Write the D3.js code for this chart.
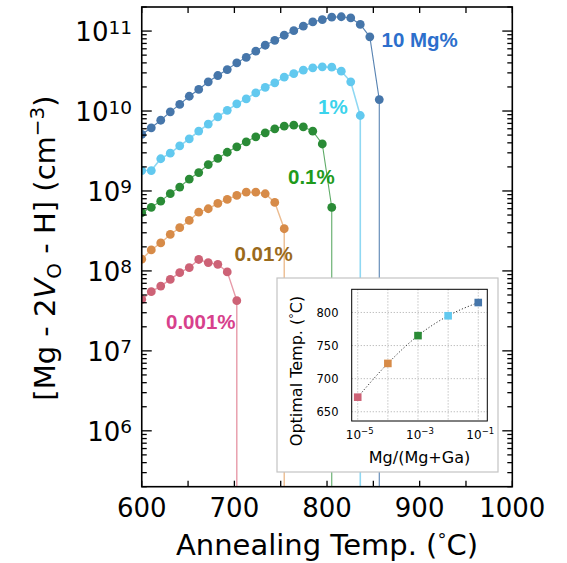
<!DOCTYPE html>
<html>
<head>
<meta charset="utf-8">
<script src="https://cdn.jsdelivr.net/npm/d3@7"></script>
<style>
  body { margin: 0; background: #fff; }
  svg { display: block; }
</style>
</head>
<body>
<svg id="chart" width="567" height="563"></svg>
<script>
// Annealing temperatures (°C) shared by all doping levels
const temperatures = [600.0, 610.3, 620.5, 630.8, 641.0, 651.3, 661.5, 671.8, 682.1, 692.3,
  702.6, 712.8, 723.1, 733.3, 743.6, 753.8, 764.1, 774.4, 784.6, 794.9,
  805.1, 815.4, 825.6, 835.9, 846.2, 856.4];

// [Mg - 2V_O - H] concentration (cm^-3) for each Mg fraction
const mg10 = [5.09e9, 6.17e9, 7.67e9, 9.77e9, 1.21e10, 1.53e10, 1.86e10, 2.32e10, 2.78e10, 3.30e10,
  4.00e10, 4.70e10, 5.60e10, 6.65e10, 7.67e10, 8.87e10, 1.01e11, 1.15e11, 1.30e11, 1.39e11,
  1.49e11, 1.51e11, 1.46e11, 1.21e11, 8.47e10, 1.39e10];
const mg1 = [1.80e9, 1.80e9, 2.53e9, 2.97e9, 3.67e9, 4.49e9, 5.62e9, 6.86e9, 8.46e9, 1.02e10,
  1.23e10, 1.42e10, 1.69e10, 1.98e10, 2.25e10, 2.65e10, 2.94e10, 3.24e10, 3.47e10, 3.57e10,
  3.53e10, 3.15e10, 2.32e10, 8.79e9];
const mg01 = [5.34e8, 6.25e8, 7.46e8, 9.25e8, 1.12e9, 1.41e9, 1.70e9, 2.14e9, 2.55e9, 3.05e9,
  3.57e9, 4.12e9, 4.76e9, 5.34e9, 5.99e9, 6.46e9, 6.65e9, 6.35e9, 5.59e9, 3.87e9, 6.22e8];
const mg001 = [1.40e8, 1.83e8, 2.24e8, 2.86e8, 3.47e8, 4.28e8, 5.43e8, 5.99e8, 6.98e8, 7.83e8,
  8.79e8, 9.66e8, 9.66e8, 9.23e8, 7.18e8, 3.37e8];
const mg0001 = [4.40e7, 5.50e7, 6.46e7, 7.83e7, 9.50e7, 1.10e8, 1.39e8, 1.27e8, 1.21e8, 9.72e7, 4.25e7];

const seriesLabels = ["10 Mg%", "1%", "0.1%", "0.01%", "0.001%"];

// Inset: optimal annealing temperature vs Mg fraction
const mgFraction = [1e-5, 1e-4, 1e-3, 1e-2, 1e-1];
const optimalTemp = [672, 723, 765, 795, 815];

// Tick labels
const xTicks = [600, 700, 800, 900, 1000];
const yTickExponents = [6, 7, 8, 9, 10, 11];
const insetYTicks = [650, 700, 750, 800];
const insetXTickExponents = [-5, -3, -1];

// ---- styling ----
const styles = [
  { dot: "#4676aa", line: "#4676aa", lineOpacity: 0.9, lw: 1.1, text: "#2c6fcc", lx: 381.5, ly: 47 },
  { dot: "#62c9ef", line: "#8fd8f3", lineOpacity: 1.0, lw: 1.6, text: "#3bd3ec", lx: 318, ly: 114 },
  { dot: "#2a8b36", line: "#4ca257", lineOpacity: 0.9, lw: 1.1, text: "#1f9a1c", lx: 288, ly: 184 },
  { dot: "#d78b48", line: "#ecbc90", lineOpacity: 1.0, lw: 1.4, text: "#9a6a1c", lx: 234.5, ly: 260.5 },
  { dot: "#cd6276", line: "#e79aa8", lineOpacity: 1.0, lw: 1.4, text: "#d7418c", lx: 166, ly: 329 }
];
const seriesValues = [mg10, mg1, mg01, mg001, mg0001];

const svg = d3.select("#chart");
const font = "'DejaVu Sans', sans-serif";

const plot = { left: 141.75, right: 512.3, top: 7, bottom: 486.7 };
const x = d3.scaleLinear().domain([600, 1000]).range([plot.left, plot.right]);
const y = d3.scaleLog().domain([2e5, 2e11]).range([plot.bottom, plot.top]);

svg.append("defs").append("clipPath").attr("id", "plotClip")
  .append("rect")
  .attr("x", plot.left).attr("y", plot.top)
  .attr("width", plot.right - plot.left).attr("height", plot.bottom - plot.top);

const dataLayer = svg.append("g").attr("clip-path", "url(#plotClip)");

// Each curve ends with a drop to zero concentration, drawn as a vertical line to the floor
seriesValues.forEach((vals, si) => {
  const st = styles[si];
  const pts = vals.map((v, i) => ({ t: temperatures[i], v }));
  const last = pts[pts.length - 1];
  const linePts = pts.concat([{ t: last.t, v: 1e3 }]);
  dataLayer.append("path")
    .datum(linePts)
    .attr("fill", "none")
    .attr("stroke", st.line)
    .attr("stroke-opacity", st.lineOpacity)
    .attr("stroke-width", st.lw)
    .attr("d", d3.line().x(d => x(d.t)).y(d => y(d.v)));
  dataLayer.append("g").selectAll("circle")
    .data(pts).join("circle")
    .attr("cx", d => x(d.t)).attr("cy", d => y(d.v))
    .attr("r", 4.4)
    .attr("fill", st.dot);
});

// Series labels
seriesLabels.forEach((lab, si) => {
  const st = styles[si];
  svg.append("text")
    .attr("x", st.lx).attr("y", st.ly)
    .attr("font-family", "'Liberation Sans', Arial, sans-serif")
    .attr("font-weight", "bold")
    .attr("font-size", 20.5)
    .attr("fill", st.text)
    .text(lab);
});

// ---- axes frame and ticks ----
const axisG = svg.append("g").attr("stroke", "#000");
// x ticks every 50 on bottom and top, pointing inward
d3.range(600, 1001, 50).forEach(t => {
  const xx = x(t);
  axisG.append("line").attr("x1", xx).attr("x2", xx).attr("y1", plot.bottom).attr("y2", plot.bottom - 6).attr("stroke-width", 1.3);
  axisG.append("line").attr("x1", xx).attr("x2", xx).attr("y1", plot.top).attr("y2", plot.top + 6).attr("stroke-width", 1.3);
});
// y major and minor ticks on left and right
for (let e = 5; e <= 11; e++) {
  for (let m = 1; m <= 9; m++) {
    const v = m * Math.pow(10, e);
    if (v < 2e5 || v > 2e11) continue;
    const yy = y(v);
    const len = m === 1 ? 10 : 5;
    axisG.append("line").attr("x1", plot.left).attr("x2", plot.left + len).attr("y1", yy).attr("y2", yy).attr("stroke-width", 1.3);
    axisG.append("line").attr("x1", plot.right).attr("x2", plot.right - len).attr("y1", yy).attr("y2", yy).attr("stroke-width", 1.3);
  }
}
axisG.append("rect")
  .attr("x", plot.left).attr("y", plot.top)
  .attr("width", plot.right - plot.left).attr("height", plot.bottom - plot.top)
  .attr("fill", "none").attr("stroke-width", 1.6);

// x tick labels
svg.append("g").selectAll("text")
  .data(xTicks).join("text")
  .attr("x", d => x(d)).attr("y", 517)
  .attr("text-anchor", "middle")
  .attr("font-family", font).attr("font-size", 26)
  .text(d => d);

// y tick labels as powers of ten
yTickExponents.forEach(e => {
  const t = svg.append("text")
    .attr("x", 132).attr("y", y(Math.pow(10, e)) + 10)
    .attr("text-anchor", "end")
    .attr("font-family", font).attr("font-size", 26);
  t.append("tspan").text("10");
  t.append("tspan").attr("dy", -7.5).attr("font-size", 18.5).text(e);
});

// axis titles
const xl = svg.append("text")
  .attr("x", 327).attr("y", 555)
  .attr("text-anchor", "middle")
  .attr("font-family", font).attr("font-size", 29);
xl.append("tspan").text("Annealing Temp. (");
xl.append("tspan").attr("dy", -9).attr("font-size", 18).text("°");
xl.append("tspan").attr("dy", 9).text("C)");

const yl = svg.append("text")
  .attr("transform", "translate(55,248) rotate(-90)")
  .attr("text-anchor", "middle")
  .attr("font-family", font).attr("font-size", 29);
yl.append("tspan").text("[Mg - 2");
yl.append("tspan").attr("font-style", "italic").text("V");
yl.append("tspan").attr("dy", 6).attr("font-size", 20).text("O");
yl.append("tspan").attr("dy", -6).text(" - H] (cm");
yl.append("tspan").attr("dy", -11).attr("font-size", 20).text("\u22123");
yl.append("tspan").attr("dy", 11).text(")");

// ---- inset ----
const box = { x: 277, y: 278, w: 221, h: 194 };
svg.append("rect")
  .attr("x", box.x).attr("y", box.y).attr("width", box.w).attr("height", box.h)
  .attr("fill", "#fff").attr("stroke", "#c4c4c4").attr("stroke-width", 1.2);

const ip = { left: 351.7, right: 487.3, top: 289.3, bottom: 421 };
const xi = d3.scaleLog().domain([Math.pow(10, -5.2), Math.pow(10, -0.7)]).range([ip.left, ip.right]);
const yi = d3.scaleLinear().domain([636, 835]).range([ip.bottom, ip.top]);

const inset = svg.append("g");
// dotted grid
[1e-5, 1e-4, 1e-3, 1e-2, 1e-1].forEach(v => {
  inset.append("line").attr("x1", xi(v)).attr("x2", xi(v)).attr("y1", ip.top).attr("y2", ip.bottom)
    .attr("stroke", "#b0b0b0").attr("stroke-width", 0.9).attr("stroke-dasharray", "1.2,1.8");
});
insetYTicks.forEach(v => {
  inset.append("line").attr("x1", ip.left).attr("x2", ip.right).attr("y1", yi(v)).attr("y2", yi(v))
    .attr("stroke", "#b0b0b0").attr("stroke-width", 0.9).attr("stroke-dasharray", "1.2,1.8");
});
// trend line
inset.append("path")
  .datum(mgFraction.map((f, i) => ({ f, t: optimalTemp[i] })))
  .attr("fill", "none").attr("stroke", "#333").attr("stroke-width", 1)
  .attr("stroke-dasharray", "1.2,2")
  .attr("d", d3.line().x(d => xi(d.f)).y(d => yi(d.t)).curve(d3.curveMonotoneX));
// markers
inset.selectAll("rect.pt")
  .data(mgFraction.map((f, i) => ({ f, t: optimalTemp[i], c: styles[4 - i].dot })))
  .join("rect")
  .attr("class", "pt")
  .attr("x", d => xi(d.f) - 3.8).attr("y", d => yi(d.t) - 3.8)
  .attr("width", 7.6).attr("height", 7.6)
  .attr("fill", d => d.c);
// frame
inset.append("rect")
  .attr("x", ip.left).attr("y", ip.top).attr("width", ip.right - ip.left).attr("height", ip.bottom - ip.top)
  .attr("fill", "none").attr("stroke", "#000").attr("stroke-width", 1);
// inset tick labels
inset.selectAll("text.yt")
  .data(insetYTicks).join("text")
  .attr("class", "yt")
  .attr("x", 338.5).attr("y", d => yi(d) + 4.3)
  .attr("text-anchor", "end")
  .attr("font-family", font).attr("font-size", 11.5)
  .text(d => d);
insetXTickExponents.forEach(e => {
  const t = inset.append("text")
    .attr("x", xi(Math.pow(10, e)) + 2).attr("y", 438.5)
    .attr("text-anchor", "middle")
    .attr("font-family", font).attr("font-size", 12);
  t.append("tspan").text("10");
  t.append("tspan").attr("dy", -5).attr("font-size", 8.5).text("\u2212" + Math.abs(e));
});
inset.append("text")
  .attr("x", 419.5).attr("y", 462.5)
  .attr("text-anchor", "middle")
  .attr("font-family", font).attr("font-size", 16)
  .text("Mg/(Mg+Ga)");
const il = inset.append("text")
  .attr("transform", "translate(302,371) rotate(-90)")
  .attr("text-anchor", "middle")
  .attr("font-family", font).attr("font-size", 16);
il.append("tspan").text("Optimal Temp. (");
il.append("tspan").attr("dy", -5).attr("font-size", 11).text("°");
il.append("tspan").attr("dy", 5).text("C)");
</script>
</body>
</html>
